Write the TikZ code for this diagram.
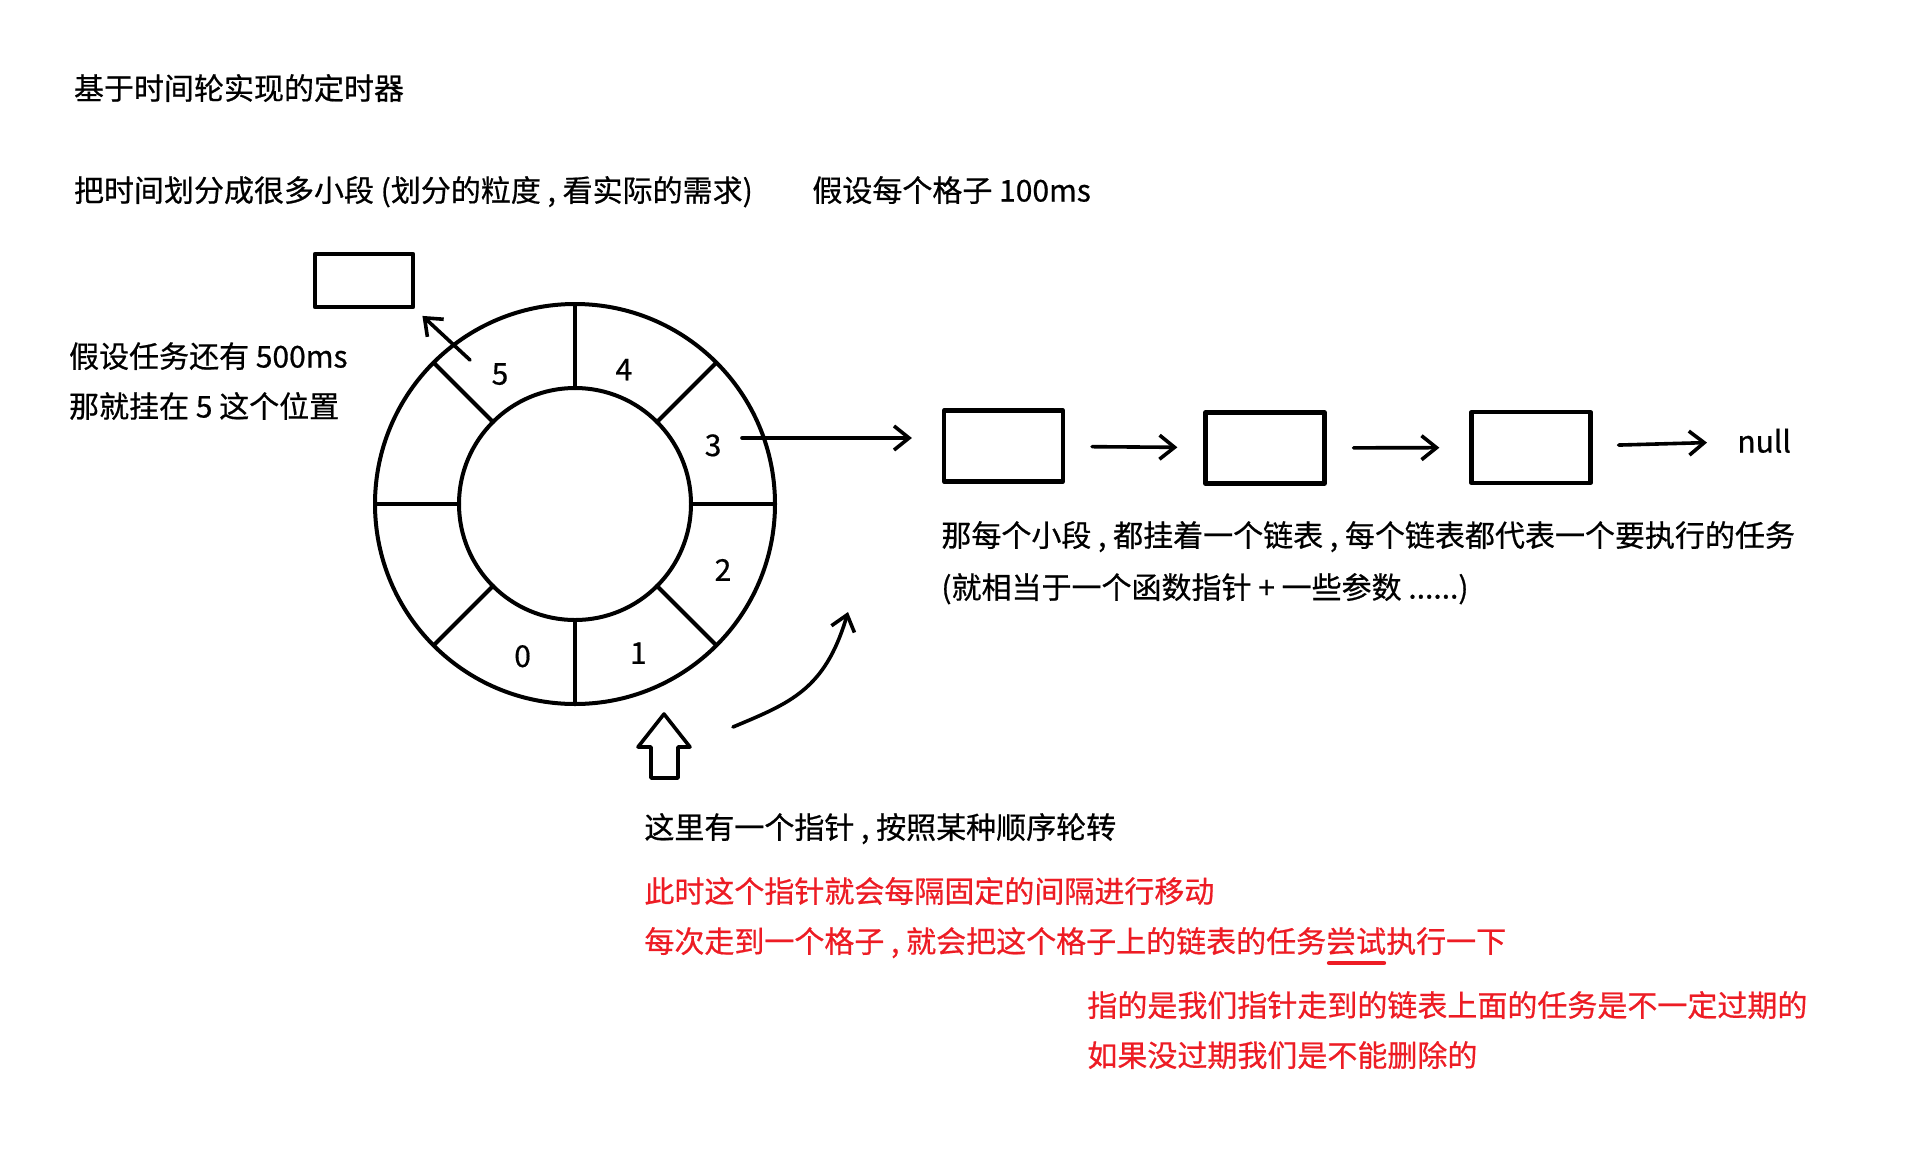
\documentclass[tikz,border=0pt]{standalone}
\usepackage{fontspec}
\setmainfont{Noto Sans CJK SC}[FakeBold=0.6]
\usepackage{tikz}
\usetikzlibrary{shapes, arrows, arrows.meta}
\usepackage{amssymb}
\usepackage{amsmath}
\usepackage{color}
\definecolor{paintred}{RGB}{237,28,36}

\tikzset{
    txt/.style={anchor=west, inner sep=0pt, text height=13pt, text depth=1.5pt, font=\fontsize{15pt}{18pt}\selectfont},
    note/.style={txt, text=paintred},
    digit/.style={inner sep=0pt, font=\fontsize{15pt}{18pt}\selectfont},
    slotbox/.style={draw, line width=2.1pt, inner sep=0pt, minimum width=49pt, minimum height=26.5pt},
    listbox/.style={slotbox, minimum width=59.5pt, minimum height=35.5pt},
    link/.style={line width=1.8pt, -{Straight Barb[length=7.5pt, width=12pt, line width=1.8pt]}},
}

\begin{document}
\begin{tikzpicture}[x=0.5pt, y=-0.5pt, line cap=round, line join=round]
        \pgfmathsetmacro{\router}{200}
        \pgfmathsetmacro{\rinner}{116}
        \useasboundingbox (0,0) rectangle (1924,1152);

        \node[txt] (title) at (73.6,88) {基于时间轮实现的定时器};
        \node[txt] (split) at (73.6,190) {把时间划分成很多小段 (划分的粒度 , 看实际的需求)};
        \node[txt] (tick) at (812,190) {假设每个格子 100ms};
        \node[txt] (rest) at (68.7,356) {假设任务还有 500ms};
        \node[txt] (hang) at (68.7,406) {那就挂在 5 这个位置};

        \begin{scope}[shift={(575,504)}]
            \draw[line width=2pt] (0,0) circle[radius=\router];
            \draw[line width=2pt] (0,0) circle[radius=\rinner];
            \foreach \a in {0,45,...,315}
                \draw[line width=2pt] (\a:\rinner) -- (\a:\router);
            \foreach \n/\a/\r in {5/-120/150, 4/-70/143, 3/-23/150, 2/24/162, 1/67/162, 0/109/161}
                \node[digit] (s\n) at (\a:\r) {\n};
        \end{scope}

        \node[slotbox] (slot) at (364,280.5) {};
        \coordinate (t5) at (470,360);
        \draw[link, shorten >=5pt] (t5) -- (slot.south east);

        \node[listbox] (b1) at (1003.5,446) {};
        \node[listbox] (b2) at (1265,448) {};
        \node[listbox] (b3) at (1531,447.5) {};
        \node[txt] (nul) at (1737,441) {null};
        \coordinate (t3) at (742,438);
        \draw[link, shorten >=15pt] (t3) -- (t3 -| b1.west);
        \draw[link, shorten <=13.5pt, shorten >=13pt] (b1) -- (b2);
        \draw[link, shorten <=13.5pt, shorten >=15pt] (b2) -- (b3);
        \draw[link, shorten <=13pt, shorten >=15pt] (b3) -- (nul);

        \node[txt] (each) at (941,535) {那每个小段 , 都挂着一个链表 , 每个链表都代表一个要执行的任务};
        \node[txt] (func) at (941,587) {(就相当于一个函数指针 + 一些参数 ......)};

        \draw[line width=1.8pt] (664,714) -- (690,747) -- (678,747) -- (678,778) -- (651,778) -- (651,747) -- (638,747) -- cycle;
        \coordinate (rot0) at (733,727);
        \coordinate (rot1) at (848,612);
        \draw[link] (rot0) .. controls (790,703) and (825,690) .. (rot1);

        \node[txt] (ptr) at (644,827) {这里有一个指针 , 按照某种顺序轮转};
        \node[note] (move) at (644,891) {此时这个指针就会每隔固定的间隔进行移动};
        \node[note] (try) at (644,941) {每次走到一个格子 , 就会把这个格子上的链表的任务尝试执行一下};
        \draw[paintred, line width=2.2pt] (1329,963) -- (1384,963);
        \node[note] (due) at (1087,1005) {指的是我们指针走到的链表上面的任务是不一定过期的};
        \node[note] (keep) at (1087,1055) {如果没过期我们是不能删除的};

    \end{tikzpicture}
\end{document}
